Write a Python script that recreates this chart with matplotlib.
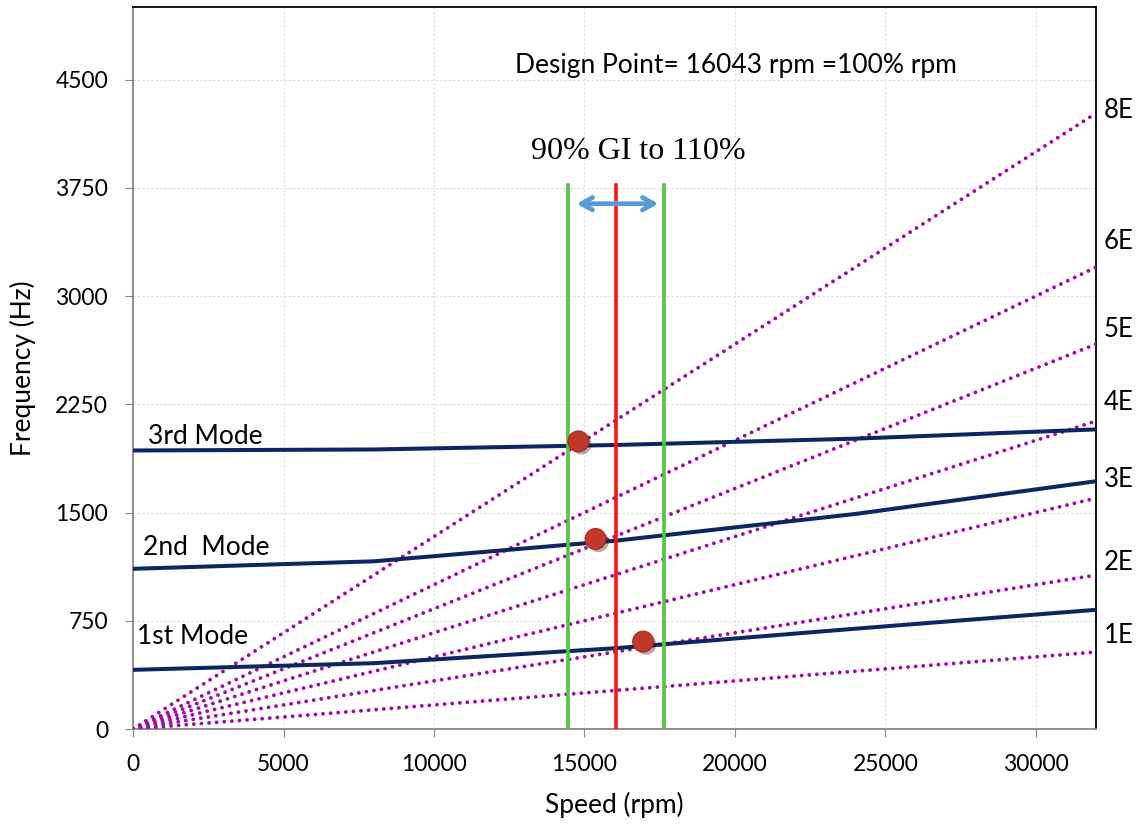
import numpy as np
import matplotlib
matplotlib.use('Agg')
import matplotlib.pyplot as plt
import matplotlib.patheffects as pe

plt.rcParams['font.family'] = ['Lato', 'DejaVu Sans']

# natural frequencies of the first three modes vs speed
speed = [0, 8000, 16043, 24000, 32000]
mode1 = [410, 456, 560, 695, 826]
mode2 = [1110, 1162, 1305, 1490, 1717]
mode3 = [1930, 1937, 1968, 2012, 2076]

# engine orders and where their labels sit on the right
orders = [1, 2, 3, 4, 5, 6, 8]
order_labels = ['1E', '2E', '3E', '4E', '5E', '6E', '8E']
order_label_y = [646, 1153, 1729, 2264, 2771, 3375, 4285]

design_rpm = 16043
low_rpm = 0.9 * design_rpm
high_rpm = 1.1 * design_rpm

# interference points
cross_rpm = [14800, 15370, 16950]
cross_hz = [1993, 1317, 606]

fig = plt.figure(figsize=(11.4, 8.27), dpi=100)
ax = fig.add_axes([0.1167, 0.1185, 0.8447, 0.8725])

rpm = np.array([0, 32000])
for n in orders:
    ax.plot(rpm, n * rpm / 60.0, color='#9B0FA8', lw=2.8,
            linestyle=(0, (0.01, 1.95)), dash_capstyle='round', zorder=3)

for m in (mode1, mode2, mode3):
    ax.plot(speed, m, color='#0C2660', lw=2.9, zorder=4, solid_capstyle='butt')

ax.plot([low_rpm, low_rpm], [0, 3770], color='#4FC83D', lw=2.6, zorder=5)
ax.plot([high_rpm, high_rpm], [0, 3770], color='#4FC83D', lw=2.6, zorder=5)
ax.plot([design_rpm, design_rpm], [0, 3770], color='#FF1010', lw=2.6, zorder=5)

ax.annotate('', xy=(14650, 3640), xytext=(17550, 3640),
            arrowprops=dict(arrowstyle='<->,head_length=0.8,head_width=0.45',
                            color='#5B9BD5', lw=3.4), zorder=6)

ax.plot(cross_rpm, cross_hz, 'o', ms=15, color='#C0392B', mec='#A52A20', mew=0.8,
        zorder=7, path_effects=[pe.SimplePatchShadow(offset=(2, -2), alpha=0.35), pe.Normal()])

ax.text(500, 2028, '3rd Mode', fontsize=19, va='center', ha='left')
ax.text(330, 1257, '2nd  Mode', fontsize=19, va='center', ha='left')
ax.text(130, 639, '1st Mode', fontsize=19, va='center', ha='left')

for lab, y in zip(order_labels, order_label_y):
    ax.text(32250, y, lab, fontsize=18.5, va='center', ha='left', clip_on=False)

ax.text(20050, 4600, 'Design Point= 16043 rpm =100% rpm', fontsize=19,
        va='center', ha='center')
ax.text(16800, 4000, '90% GI to 110%', fontsize=23, va='center', ha='center',
        family='Liberation Serif')

ax.set_xlim(0, 32000)
ax.set_ylim(0, 5000)
ax.set_xticks(np.arange(0, 30001, 5000))
ax.set_yticks(np.arange(0, 4501, 750))
ax.grid(True, color='#DCDCDC', linestyle=(0, (2, 2)), lw=0.8)
ax.set_axisbelow(True)
ax.tick_params(direction='out', length=6, color='#868686', labelsize=16.5)
ax.tick_params(axis='y', pad=12)
ax.tick_params(axis='x', pad=12)

for s in ('top', 'right'):
    ax.spines[s].set_color('black')
    ax.spines[s].set_linewidth(1.3)
for s in ('left', 'bottom'):
    ax.spines[s].set_color('#868686')
    ax.spines[s].set_linewidth(1.3)

ax.set_xlabel('Speed (rpm)', fontsize=19, labelpad=12)
ax.set_ylabel('Frequency (Hz)', fontsize=19, labelpad=14)

fig.savefig('out.png', dpi=100)
